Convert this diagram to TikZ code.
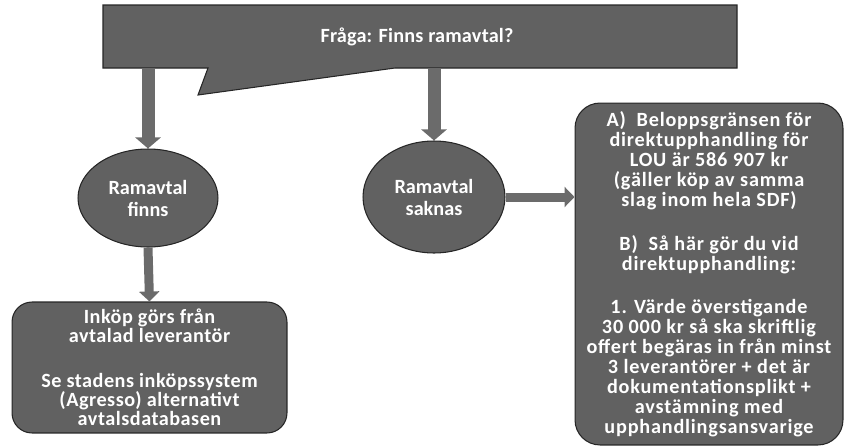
\documentclass[tikz,border=0pt]{standalone}
\usepackage{fontspec}
\setmainfont{Carlito}
\usetikzlibrary{shapes.geometric,arrows.meta}
\tikzset{
  grayfill/.style={fill=black!62, draw=black!85, line width=0.6pt},
  wtext/.style={text=white, align=center, inner sep=0pt,
    font=\bfseries\fontsize{11.5}{11.4}\selectfont},
  downarrow/.style={draw=black!58, line width=0.26cm,
    -{Triangle[width=0.5cm,length=0.22cm]}},
  smallarrow/.style={draw=black!58, line width=0.18cm,
    -{Triangle[width=0.4cm,length=0.2cm]}},
}
\begin{document}
\begin{tikzpicture}[x=0.02cm,y=-0.02cm]
  \useasboundingbox (0,0) rectangle (849,447);
  % callout with pointer
  \draw[grayfill] (103,5) -- (737,5) -- (737,68) -- (395,68)
    -- (198,95) -- (208,68) -- (103,68) -- cycle;
  \node[wtext, minimum width=12.68cm, minimum height=1.26cm,
    font=\bfseries\fontsize{11.5}{11.4}\selectfont\addfontfeatures{LetterSpace=1}]
    (q) at (417,37) {Fråga: Finns ramavtal?};
  \node[grayfill, wtext, ellipse, minimum width=2.8cm, minimum height=1.96cm,
    font=\bfseries\fontsize{11.5}{12.5}\selectfont]
    (f) at (148,198) {Ramavtal\\finns};
  \node[grayfill, wtext, ellipse, minimum width=2.84cm, minimum height=2.24cm,
    font=\bfseries\fontsize{11.5}{12.5}\selectfont]
    (s) at (434,197) {Ramavtal\\saknas};
  \node[grayfill, wtext, rounded corners=0.4cm, minimum width=5.5cm,
    minimum height=2.62cm,
    font=\bfseries\fontsize{11.5}{10.8}\selectfont\addfontfeatures{LetterSpace=2.5}]
    (i) at (149.5,367.5) {Inköp görs från\\avtalad leverantör\\[0.52cm]
    Se stadens inköpssystem\\(Agresso) alternativt\\avtalsdatabasen};
  \node[grayfill, wtext, rounded corners=0.5cm, minimum width=5.36cm,
    minimum height=6.84cm,
    font=\bfseries\fontsize{11.5}{11.4}\selectfont\addfontfeatures{LetterSpace=4}]
    (d) at (709,274) {A)\ \ Beloppsgränsen för\\direktupphandling för\\
    LOU är 586~907 kr\\(gäller köp av samma\\slag inom hela SDF)\\[0.48cm]
    B)\ \ Så här gör du vid\\direktupphandling:\\[0.46cm]
    1. Värde överstigande\\30~000 kr så ska skriftlig\\
    offert begäras in från minst\\3 leverantörer + det är\\
    dokumentationsplikt +\\avstämning med\\upphandlingsansvarige};
  \draw[downarrow] (f.north |- q.south) -- (f.north);
  \draw[downarrow] (s.north |- q.south) -- (s.north);
  \draw[smallarrow] (f.south) -- (i.north);
  \draw[smallarrow] (s.east) -- (d.west |- s.east);
\end{tikzpicture}
\end{document}
